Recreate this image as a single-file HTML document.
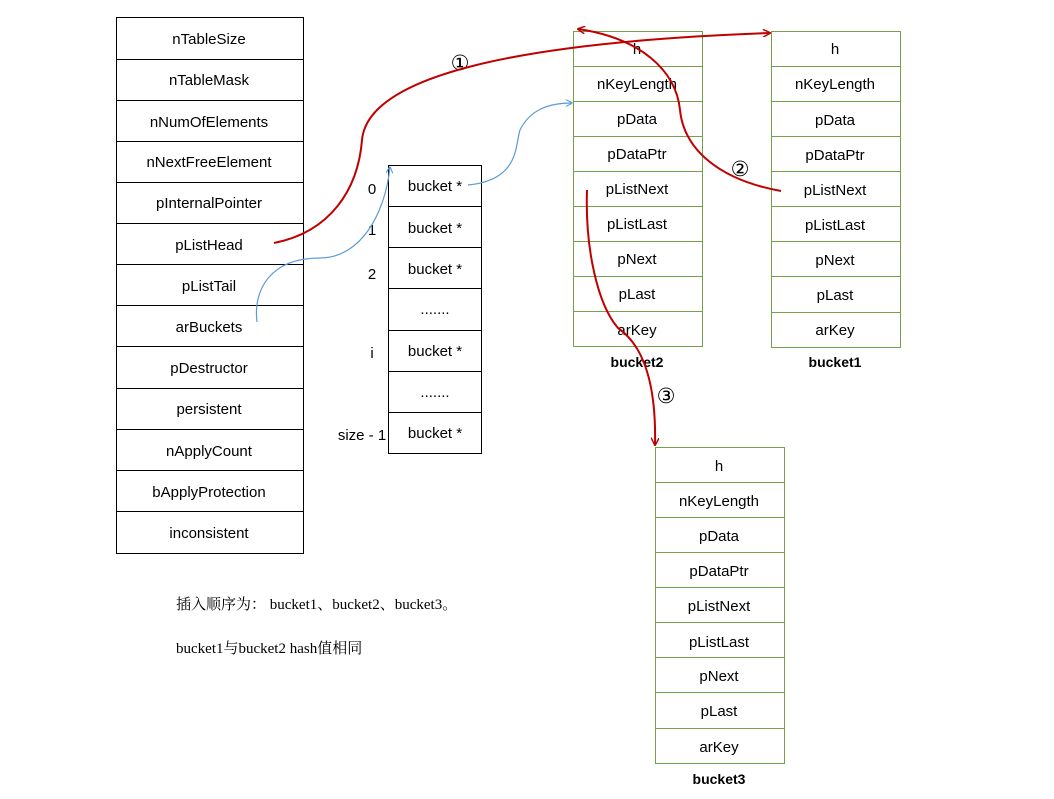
<!DOCTYPE html>
<html><head><meta charset="utf-8"><style>
body{margin:0;background:#fff;}
svg{display:block;font-family:"Liberation Sans","Noto Sans CJK SC",sans-serif;}
</style></head><body>
<svg width="1054" height="799" viewBox="0 0 1054 799" xmlns="http://www.w3.org/2000/svg">
<defs>
<marker id="ar" viewBox="0 0 10 10" refX="9" refY="5" markerWidth="8" markerHeight="8" orient="auto-start-reverse" markerUnits="userSpaceOnUse"><path d="M0,0 L10,5 L0,10" fill="none" stroke="#c00000" stroke-width="1.8"/></marker>
<marker id="ab" viewBox="0 0 10 10" refX="9" refY="5" markerWidth="7" markerHeight="7" orient="auto" markerUnits="userSpaceOnUse"><path d="M0,0 L10,5 L0,10" fill="none" stroke="#5b9bd5" stroke-width="1.5"/></marker>
</defs>
<g font-size="15" fill="#000" text-anchor="middle">
<g stroke="#000" fill="none" stroke-width="1">
<rect x="116.5" y="17.5" width="187" height="536"/>
<path d="M116,59.5H303M116,100.5H303M116,141.5H303M116,182.5H303M116,223.5H303M116,264.5H303M116,305.5H303M116,346.5H303M116,388.5H303M116,429.5H303M116,470.5H303M116,511.5H303"/>
<rect x="388.5" y="165.5" width="93" height="288"/>
<path d="M388,206.5H481M388,247.5H481M388,288.5H481M388,330.5H481M388,371.5H481M388,412.5H481"/>
</g>
<text x="209" y="44">nTableSize</text>
<text x="209" y="85">nTableMask</text>
<text x="209" y="127">nNumOfElements</text>
<text x="209" y="167">nNextFreeElement</text>
<text x="209" y="208">pInternalPointer</text>
<text x="209" y="250">pListHead</text>
<text x="209" y="291">pListTail</text>
<text x="209" y="332">arBuckets</text>
<text x="209" y="373">pDestructor</text>
<text x="209" y="414">persistent</text>
<text x="209" y="456">nApplyCount</text>
<text x="209" y="497">bApplyProtection</text>
<text x="209" y="538">inconsistent</text>

<text x="435" y="191">bucket *</text>
<text x="435" y="233">bucket *</text>
<text x="435" y="274">bucket *</text>
<text x="435" y="314">.......</text>
<text x="435" y="356">bucket *</text>
<text x="435" y="397">.......</text>
<text x="435" y="438">bucket *</text>
<text x="372" y="194">0</text>
<text x="372" y="235">1</text>
<text x="372" y="279">2</text>
<text x="372" y="358">i</text>
<text x="362" y="440">size - 1</text>

<g stroke="#77a04a" fill="none" stroke-width="1">
<rect x="573.5" y="31.5" width="129" height="315"/>
<path d="M573,66.5H702M573,101.5H702M573,136.5H702M573,171.5H702M573,206.5H702M573,241.5H702M573,276.5H702M573,311.5H702"/>
<rect x="771.5" y="31.5" width="129" height="316"/>
<path d="M771,66.5H900M771,101.5H900M771,136.5H900M771,171.5H900M771,206.5H900M771,241.5H900M771,276.5H900M771,312.5H900"/>
<rect x="655.5" y="447.5" width="129" height="316"/>
<path d="M655,482.5H784M655,517.5H784M655,552.5H784M655,587.5H784M655,622.5H784M655,657.5H784M655,692.5H784M655,728.5H784"/>
</g>
<g>
<text x="637" y="54">h</text><text x="637" y="89">nKeyLength</text><text x="637" y="124">pData</text><text x="637" y="159">pDataPtr</text><text x="637" y="194">pListNext</text><text x="637" y="229">pListLast</text><text x="637" y="264">pNext</text><text x="637" y="299">pLast</text><text x="637" y="335">arKey</text>
<text x="835" y="54">h</text><text x="835" y="89">nKeyLength</text><text x="835" y="125">pData</text><text x="835" y="160">pDataPtr</text><text x="835" y="195">pListNext</text><text x="835" y="230">pListLast</text><text x="835" y="265">pNext</text><text x="835" y="300">pLast</text><text x="835" y="335">arKey</text>
<text x="719" y="471">h</text><text x="719" y="506">nKeyLength</text><text x="719" y="541">pData</text><text x="719" y="576">pDataPtr</text><text x="719" y="611">pListNext</text><text x="719" y="647">pListLast</text><text x="719" y="681">pNext</text><text x="719" y="716">pLast</text><text x="719" y="752">arKey</text>
</g>
<g font-weight="bold" font-size="14">
<text x="637" y="367">bucket2</text><text x="835" y="367">bucket1</text><text x="719" y="784">bucket3</text>
</g>
<g font-size="21" font-family="'DejaVu Sans',sans-serif">
<text x="460" y="70">①</text><text x="740" y="176">②</text><text x="666" y="403">③</text>
</g>
</g>
<g stroke="#c00000" stroke-width="2" fill="none">
<path d="M274,243 C330,232 358,190 362,140 C368,75 520,42 770,33" marker-end="url(#ar)"/>
<path d="M781,191 C720,180 684,150 680,110 C676,70 640,38 578,29" marker-end="url(#ar)"/>
<path d="M587,190 C585,250 598,305 618,328 C650,350 656,400 655,445" marker-end="url(#ar)"/>
</g>
<g stroke="#5b9bd5" stroke-width="1.2" fill="none">
<path d="M257,322 C253,290 270,258 320,258 C360,258 385,215 390,167" marker-end="url(#ab)"/>
<path d="M468,185 C520,180 515,145 520,130 C530,110 548,103 572,103" marker-end="url(#ab)"/>
</g>
<g font-family="'Liberation Serif','Noto Serif CJK SC',serif" font-size="15" fill="#000">
<text x="176" y="609">插入顺序为： bucket1、bucket2、bucket3。</text>
<text x="176" y="653">bucket1与bucket2 hash值相同</text>
</g>
</svg>
</body></html>
